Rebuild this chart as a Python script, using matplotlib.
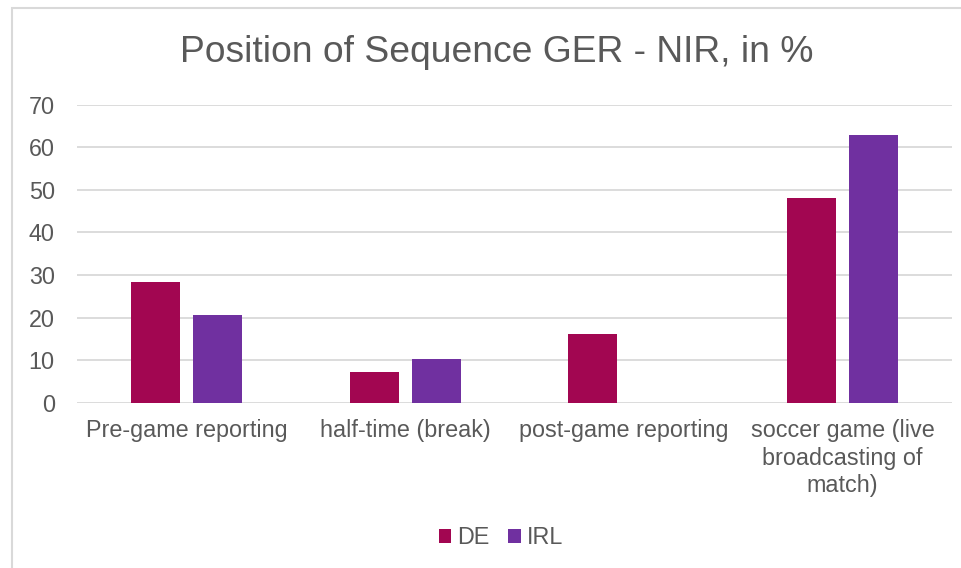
import matplotlib.pyplot as plt
import numpy as np
from matplotlib.patches import Rectangle

categories = ['Pre-game reporting', 'half-time (break)', 'post-game reporting',
              'soccer game (live\nbroadcasting of\nmatch)']
de_values = [28.3, 7.3, 16.1, 48.2]
irl_values = [20.5, 10.3, 0, 62.8]
y_ticks = [0, 10, 20, 30, 40, 50, 60, 70]

plt.rcParams['font.family'] = ['Liberation Sans', 'DejaVu Sans']
text_color = '#595959'

W, H = 961, 568
fig = plt.figure(figsize=(W / 100, H / 100), dpi=100)

# chart frame (light grey border like Excel, right/bottom edges cut off)
fig.patches.append(Rectangle((12 / W, -0.1), 1.2, 1.1 - 8 / H, transform=fig.transFigure,
                             fill=False, edgecolor='#D9D9D9', linewidth=1.5))

ax = fig.add_axes([77 / W, 1 - 402.7 / H, (952 - 77) / W, (402.7 - 104.7) / H])

x = np.arange(len(categories))
bar_w = 0.224
offset = 0.1417
bars_de = ax.bar(x - offset, de_values, bar_w, color='#A20651', zorder=3)
bars_irl = ax.bar(x + offset, irl_values, bar_w, color='#7030A0', zorder=3)

ax.set_xlim(-0.5, len(categories) - 0.5)
ax.set_ylim(0, 70)
ax.set_yticks(y_ticks)
ax.grid(axis='y', color='#D9D9D9', linewidth=1.3, zorder=0)
for s in ax.spines.values():
    s.set_visible(False)
ax.tick_params(axis='both', length=0, labelsize=16.8, labelcolor=text_color)
ax.tick_params(axis='y', pad=16)
ax.tick_params(axis='x', pad=12)
ax.set_xticks(x)
ax.set_xticklabels(categories, linespacing=1.25)

fig.text(497 / W, 1 - 53 / H, 'Position of Sequence GER - NIR, in %',
         ha='center', va='center', fontsize=26.8, color=text_color)

leg = fig.legend([bars_de, bars_irl], ['DE', 'IRL'], loc='center',
                 bbox_to_anchor=(501 / W, 1 - 538 / H), ncol=2, frameon=False,
                 fontsize=16.8, handlelength=0.55, handleheight=0.55,
                 handletextpad=0.25, columnspacing=0.8)
for t in leg.get_texts():
    t.set_color(text_color)

fig.savefig('out.png', dpi=100)
